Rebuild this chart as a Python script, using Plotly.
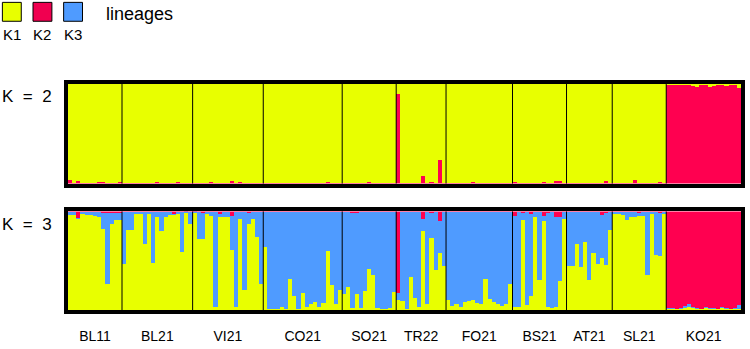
import plotly.graph_objects as go

# ---------------- data ----------------
groups = ["BL11", "BL21", "VI21", "CO21", "SO21", "TR22", "FO21", "BS21", "AT21", "SL21", "KO21"]

# K = 2 : proportion of lineage K2 (red) per individual, group by group
k2_red = {
    "BL11": [0.04, 0.01, 0.03, 0.01, 0.01, 0.01, 0.01, 0.02, 0.02, 0.01, 0.01, 0.01, 0.02],
    "BL21": [0.01, 0.01, 0.01, 0.01, 0.01, 0.01, 0.01, 0.01, 0.02, 0.01, 0.01, 0.01, 0.01, 0.02, 0.01, 0.01, 0.01],
    "VI21": [0.01, 0.01, 0.01, 0.01, 0.02, 0.01, 0.01, 0.01, 0.01, 0.03, 0.01, 0.02, 0.01, 0.01, 0.01, 0.01, 0.01],
    "CO21": [0.01, 0.01, 0.01, 0.01, 0.01, 0.01, 0.01, 0.01, 0.01, 0.01, 0.01, 0.01, 0.01, 0.01, 0.01, 0.02, 0.01, 0.01, 0.01],
    "SO21": [0.01, 0.01, 0.01, 0.01, 0.01, 0.01, 0.02, 0.01, 0.01, 0.01, 0.01, 0.01, 0.01],
    "TR22": [0.90, 0.01, 0.01, 0.01, 0.01, 0.01, 0.08, 0.01, 0.02, 0.01, 0.24, 0.01],
    "FO21": [0.01, 0.01, 0.01, 0.01, 0.01, 0.01, 0.02, 0.01, 0.01, 0.01, 0.01, 0.01, 0.01, 0.01, 0.01, 0.01],
    "BS21": [0.02, 0.01, 0.01, 0.01, 0.01, 0.01, 0.01, 0.02, 0.01, 0.01, 0.03, 0.03, 0.01],
    "AT21": [0.01, 0.01, 0.01, 0.01, 0.01, 0.01, 0.01, 0.01, 0.01, 0.03, 0.01],
    "SL21": [0.01, 0.01, 0.01, 0.01, 0.01, 0.04, 0.01, 0.01, 0.01, 0.01, 0.01, 0.02, 0.01],
    "KO21": [0.99, 0.99, 0.99, 0.99, 0.99, 0.99, 0.98, 0.97, 0.99, 0.99, 0.97, 0.98, 0.99, 0.99, 0.98, 0.99, 0.99, 0.96],
}

# K = 3 : proportions of lineage K1 (yellow) and K2 (red); K3 (blue) is the remainder
k3_yellow = {
    "BL11": [0.96, 0.96, 0.92, 0.97, 0.96, 0.96, 0.95, 0.94, 0.82, 0.26, 0.87, 0.91, 0.91],
    "BL21": [0.46, 0.81, 0.81, 0.97, 0.97, 0.67, 0.97, 0.47, 0.94, 0.80, 0.94, 0.96, 0.96, 0.97, 0.58, 0.98, 0.87],
    "VI21": [0.98, 0.72, 0.72, 0.97, 0.95, 0.03, 0.94, 0.94, 0.94, 0.60, 0.03, 0.92, 0.20, 0.87, 0.92, 0.74, 0.26],
    "CO21": [0.63, 0.01, 0.01, 0.01, 0.03, 0.01, 0.31, 0.14, 0.01, 0.17, 0.03, 0.06, 0.08, 0.03, 0.07, 0.59, 0.25, 0.06, 0.20],
    "SO21": [0.16, 0.23, 0.02, 0.16, 0.02, 0.19, 0.41, 0.35, 0.02, 0.01, 0.01, 0.02, 0.18],
    "TR22": [0.10, 0.09, 0.01, 0.33, 0.12, 0.03, 0.80, 0.06, 0.73, 0.40, 0.57, 0.44],
    "FO21": [0.10, 0.04, 0.06, 0.03, 0.08, 0.09, 0.10, 0.07, 0.06, 0.31, 0.11, 0.08, 0.06, 0.04, 0.06, 0.26],
    "BS21": [0.03, 0.03, 0.91, 0.05, 0.14, 0.94, 0.30, 0.90, 0.03, 0.02, 0.03, 0.29, 0.92],
    "AT21": [0.44, 0.44, 0.67, 0.43, 0.69, 0.30, 0.57, 0.46, 0.52, 0.45, 0.81],
    "SL21": [0.97, 0.97, 0.96, 0.91, 0.94, 0.94, 0.95, 0.95, 0.35, 0.97, 0.55, 0.54, 0.97],
    "KO21": [0.01, 0.01, 0.01, 0.01, 0.02, 0.03, 0.02, 0.01, 0.01, 0.02, 0.01, 0.01, 0.01, 0.02, 0.01, 0.01, 0.01, 0.01],
}
k3_red = {
    "BL11": [0.01, 0.01, 0.07, 0.01, 0.01, 0.01, 0.01, 0.01, 0.02, 0.02, 0.02, 0.02, 0.02],
    "BL21": [0.01, 0.01, 0.01, 0.01, 0.01, 0.01, 0.01, 0.01, 0.01, 0.01, 0.01, 0.01, 0.03, 0.01, 0.01, 0.01, 0.01],
    "VI21": [0.01, 0.01, 0.02, 0.01, 0.01, 0.01, 0.03, 0.01, 0.01, 0.05, 0.01, 0.01, 0.01, 0.02, 0.01, 0.01, 0.01],
    "CO21": [0.01, 0.01, 0.01, 0.01, 0.01, 0.01, 0.01, 0.01, 0.01, 0.01, 0.01, 0.01, 0.01, 0.01, 0.01, 0.01, 0.01, 0.01, 0.01],
    "SO21": [0.01, 0.01, 0.02, 0.02, 0.01, 0.01, 0.01, 0.01, 0.01, 0.01, 0.01, 0.01, 0.01],
    "TR22": [0.83, 0.01, 0.01, 0.01, 0.01, 0.01, 0.08, 0.01, 0.02, 0.01, 0.10, 0.01],
    "FO21": [0.01, 0.01, 0.01, 0.01, 0.01, 0.01, 0.01, 0.01, 0.01, 0.01, 0.01, 0.01, 0.01, 0.01, 0.01, 0.01],
    "BS21": [0.05, 0.01, 0.02, 0.01, 0.03, 0.01, 0.01, 0.05, 0.02, 0.01, 0.06, 0.06, 0.01],
    "AT21": [0.01, 0.01, 0.01, 0.01, 0.01, 0.01, 0.01, 0.01, 0.04, 0.02, 0.01],
    "SL21": [0.01, 0.01, 0.01, 0.01, 0.01, 0.01, 0.02, 0.01, 0.01, 0.01, 0.01, 0.02, 0.01],
    "KO21": [0.98, 0.98, 0.99, 0.98, 0.96, 0.94, 0.97, 0.98, 0.99, 0.97, 0.98, 0.98, 0.99, 0.97, 0.98, 0.99, 0.98, 0.95],
}

lineage_names = ["K1", "K2", "K3"]
YEL, RED, BLU = "#E8FF00", "#FF0050", "#4F9BFF"

# ---------------- build ----------------
x, r2, y2 = [], [], []
y3, r3, b3 = [], [], []
bounds, centers = [], []
i = 0
for g in groups:
    n = len(k2_red[g])
    centers.append(i + (n - 1) / 2)
    for j in range(n):
        x.append(i + j)
        r2.append(k2_red[g][j])
        y2.append(1 - k2_red[g][j])
        y3.append(k3_yellow[g][j])
        r3.append(k3_red[g][j])
        b3.append(1 - k3_yellow[g][j] - k3_red[g][j])
    i += n
    bounds.append(i)
N = i

fig = go.Figure()
common = dict(marker_line_width=0, showlegend=False, hoverinfo="skip")
fig.add_bar(x=x, y=r2, marker_color=RED, xaxis="x", yaxis="y", **common)
fig.add_bar(x=x, y=y2, marker_color=YEL, xaxis="x", yaxis="y", **common)
fig.add_bar(x=x, y=y3, marker_color=YEL, xaxis="x2", yaxis="y2", **common)
fig.add_bar(x=x, y=b3, marker_color=BLU, xaxis="x2", yaxis="y2", **common)
fig.add_bar(x=x, y=r3, marker_color=RED, xaxis="x2", yaxis="y2", **common)

frame = dict(showline=True, linewidth=4, linecolor="black", mirror=True,
             showgrid=False, zeroline=False)
fig.update_layout(
    width=750, height=349,
    margin=dict(l=68, r=5, t=84, b=38),
    paper_bgcolor="white", plot_bgcolor="white",
    barmode="stack", bargap=0,
    font=dict(family="Liberation Sans, Arial, sans-serif", color="black"),
    xaxis=dict(domain=[0, 1], range=[-0.5, N - 0.5], anchor="y",
               showticklabels=False, ticks="", **frame),
    yaxis=dict(domain=[1 - 100 / 227, 1], range=[0, 1], anchor="x",
               showticklabels=False, ticks="", **frame),
    xaxis2=dict(domain=[0, 1], range=[-0.5, N - 0.5], anchor="y2",
                tickmode="array", tickvals=centers, ticktext=groups,
                ticks="outside", ticklen=10, tickcolor="rgba(0,0,0,0)",
                tickfont=dict(size=14), **frame),
    yaxis2=dict(domain=[0, 99 / 227], range=[0, 1], anchor="x2",
                showticklabels=False, ticks="", **frame),
)

shapes = []
for b in bounds[:-1]:
    for xr, yr in (("x", "y domain"), ("x2", "y2 domain")):
        shapes.append(dict(type="line", xref=xr, yref=yr, x0=b - 0.5, x1=b - 0.5,
                           y0=0, y1=1, line=dict(color="black", width=1)))

# legend squares
for k, col in enumerate([YEL, "#F00050", BLU]):
    x0 = 2 + k * 30.8
    shapes.append(dict(type="rect", xref="paper", yref="paper",
                       x0=(x0 - 68) / 677, x1=(x0 + 19 - 68) / 677,
                       y0=(311 - 21) / 227, y1=(311 - 2) / 227,
                       line=dict(color="black", width=1), fillcolor=col))
fig.update_layout(shapes=shapes)

ann = []
for k, name in enumerate(lineage_names):
    cx = 11.5 + k * 30.8
    ann.append(dict(text=name, x=(cx - 68) / 677, y=(311 - 34) / 227, xref="paper", yref="paper",
                    showarrow=False, xanchor="center", yanchor="middle", font=dict(size=15)))
ann.append(dict(text="lineages", x=(104 - 68) / 677, y=(311 - 14) / 227, xref="paper", yref="paper",
                showarrow=False, xanchor="left", yanchor="middle", font=dict(size=18)))
ann.append(dict(text="K\u00a0\u00a0=\u00a0\u00a02", x=(0 - 68) / 677, y=(311 - 97) / 227, xref="paper", yref="paper",
                showarrow=False, xanchor="left", yanchor="middle", font=dict(size=17)))
ann.append(dict(text="K\u00a0\u00a0=\u00a0\u00a03", x=(0 - 68) / 677, y=(311 - 225) / 227, xref="paper", yref="paper",
                showarrow=False, xanchor="left", yanchor="middle", font=dict(size=17)))
fig.update_layout(annotations=ann)

fig.write_html("out.html", config={"displayModeBar": False},
               post_script="document.body.style.margin='0';document.body.style.overflow='hidden';")
